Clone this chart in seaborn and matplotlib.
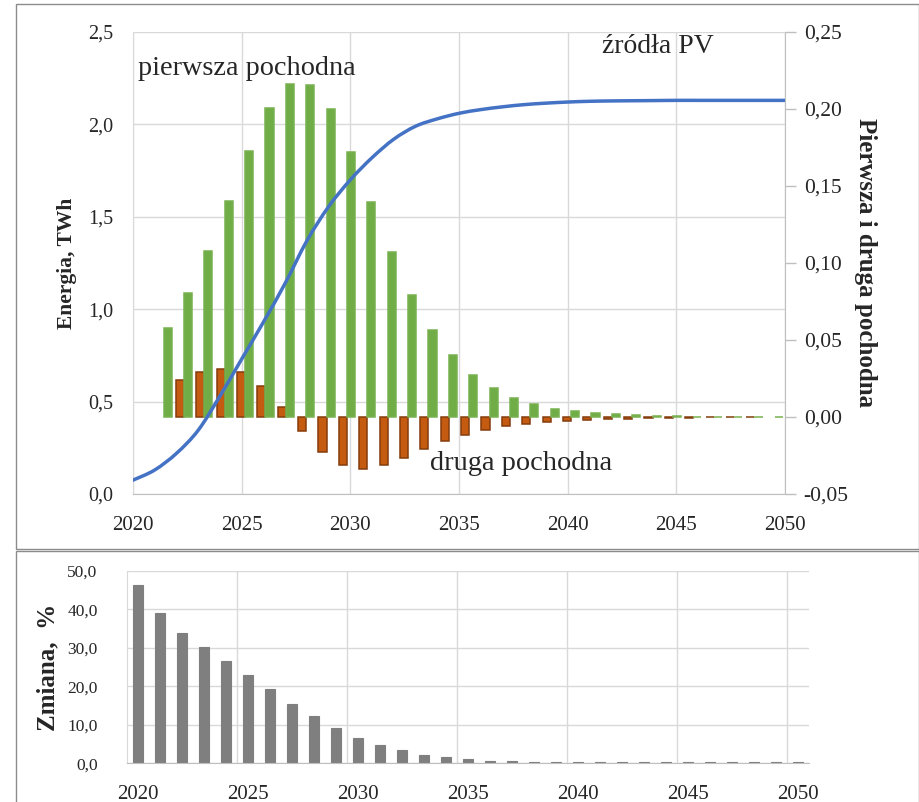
import numpy as np
import pandas as pd
import matplotlib
matplotlib.use("Agg")
import matplotlib.pyplot as plt
from matplotlib.ticker import FuncFormatter, FixedLocator
from matplotlib.patches import Rectangle, PathPatch
from matplotlib.path import Path
import seaborn as sns

sns.set_style("white")
plt.rcParams["font.family"] = ["Liberation Serif", "DejaVu Serif"]

nan = np.nan

# --- Energy from PV sources (S-curve), TWh ---------------------------------
years = list(range(2020, 2051))
energy_twh = [0.075, 0.13, 0.22, 0.345, 0.53, 0.73, 0.93, 1.14, 1.37, 1.555,
              1.70, 1.82, 1.92, 1.99, 2.03, 2.06, 2.08, 2.095, 2.107, 2.115,
              2.121, 2.125, 2.127, 2.128, 2.129, 2.13, 2.13, 2.13, 2.13, 2.13,
              2.13]

# --- first and second derivative (secondary axis) ---------------------------
deriv_years = list(range(2020, 2052))
first_deriv = [nan, 0.0576, 0.0803, 0.1075, 0.1400, 0.1727, 0.2004, 0.2160,
               0.2154, 0.1998, 0.1719, 0.1396, 0.1073, 0.0794, 0.0567, 0.0400,
               0.0275, 0.0188, 0.0125, 0.0084, 0.0054, 0.0036, 0.0025, 0.0017,
               0.0010, 0.0006, 0.0004, 0.0003, 0.0002, 0.0002, 0.0001, 0.0001]
second_deriv = [nan, nan, 0.0242, 0.0289, 0.0314, 0.0289, 0.0202, 0.0068,
                -0.0091, -0.0227, -0.0312, -0.0338, -0.0312, -0.0264, -0.0210,
                -0.0156, -0.0115, -0.0084, -0.0058, -0.0045, -0.0035, -0.0027,
                -0.0022, -0.0016, -0.0011, -0.0008, -0.0006, -0.0004, -0.0003,
                -0.0002, -0.0002, nan]

# --- year-on-year change, % -------------------------------------------------
change_pct = [46.4, 39.0, 34.0, 30.2, 26.6, 22.9, 19.3, 15.5, 12.4, 9.1,
              6.7, 4.7, 3.5, 2.2, 1.6, 1.1, 0.6, 0.5, 0.35, 0.3,
              0.3, 0.25, 0.25, 0.25, 0.25, 0.25, 0.25, 0.25, 0.25, 0.25, 0.25]

series_names = ["druga pochodna", "pierwsza pochodna"]
series_colors = {"druga pochodna": "#C55A11", "pierwsza pochodna": "#70AD47"}
series_edges = {"druga pochodna": "#843C0C", "pierwsza pochodna": "#78B251"}

GRID = "#D9D9D9"
AXIS = "#BFBFBF"
W, H = 920, 802


def box(x0, y0, x1, y1):
    """Pixel box (origin top-left) -> figure-fraction rect."""
    return [x0 / W, 1 - y1 / H, (x1 - x0) / W, (y1 - y0) / H]


def comma(fmt):
    def f(v, _):
        if abs(v) < 1e-9:
            v = 0.0
        return format(v, fmt).replace(".", ",")
    return FuncFormatter(f)


def smoothed(xs, ys):
    """Bezier path through the points (spreadsheet-style smoothed line)."""
    pts = np.column_stack([xs, ys]).astype(float)
    n = len(pts)
    verts, codes = [pts[0]], [Path.MOVETO]
    for i in range(n - 1):
        p_prev = pts[i - 1] if i > 0 else pts[i]
        p0, p1 = pts[i], pts[i + 1]
        p_next = pts[i + 2] if i + 2 < n else pts[i + 1]
        verts += [p0 + (p1 - p_prev) / 6, p1 - (p_next - p0) / 6, p1]
        codes += [Path.CURVE4] * 3
    return Path(verts, codes)


fig = plt.figure(figsize=(W / 100, H / 100), dpi=100)
fig.patch.set_facecolor("white")

# ============================ upper chart ===================================
top_rect = box(133, 32, 785, 494)
ax = fig.add_axes(top_rect, label="energy-grid")
ax_b = fig.add_axes(top_rect, label="derivatives")
ax_l = fig.add_axes(top_rect, label="energy-line")
ax.set_zorder(0)
ax_b.set_zorder(1)
ax_l.set_zorder(2)

# primary axis: years / TWh with grid
ax.set_xlim(2020, 2050)
ax.set_ylim(0, 2.5)
ax.xaxis.set_major_locator(FixedLocator(list(range(2020, 2051, 5))))
ax.yaxis.set_major_locator(FixedLocator([0, 0.5, 1.0, 1.5, 2.0, 2.5]))
ax.yaxis.set_major_formatter(comma(".1f"))
ax.grid(True, color=GRID, linewidth=1.0)
for s in ["top", "right"]:
    ax.spines[s].set_visible(False)
ax.spines["left"].set_color(GRID)
ax.spines["bottom"].set_color(AXIS)
ax.tick_params(axis="x", length=0, labelsize=15, pad=16)
ax.tick_params(axis="y", length=0, labelsize=14.5, pad=14)
ax.set_ylabel("Energia, TWh", fontsize=15.5, fontweight="bold", labelpad=8)

# secondary axis: clustered bars of the derivatives
deriv_df = pd.DataFrame({
    "rok": deriv_years * 2,
    "wartosc": second_deriv + first_deriv,
    "seria": [series_names[0]] * len(deriv_years) + [series_names[1]] * len(deriv_years),
}).dropna()
sns.barplot(data=deriv_df, x="rok", y="wartosc", hue="seria",
            order=deriv_years, hue_order=series_names, palette=series_colors,
            width=0.8, saturation=1, errorbar=None, legend=False, ax=ax_b)
for bar in ax_b.patches:
    fc = matplotlib.colors.to_hex(bar.get_facecolor())
    for name, col in series_colors.items():
        if fc.lower() == col.lower():
            bar.set_edgecolor(series_edges[name])
            bar.set_linewidth(1.1)
ax_b.patch.set_visible(False)
ax_b.set_xlim(-0.5, len(deriv_years) - 0.5)
ax_b.set_ylim(-0.05, 0.25)
ax_b.set_xticks([])
ax_b.set_xlabel("")
ax_b.yaxis.set_major_locator(FixedLocator([-0.05, 0.0, 0.05, 0.10, 0.15, 0.20, 0.25]))
ax_b.yaxis.set_major_formatter(comma(".2f"))
ax_b.yaxis.tick_right()
ax_b.yaxis.set_label_position("right")
for s in ["top", "left", "bottom"]:
    ax_b.spines[s].set_visible(False)
ax_b.spines["right"].set_color(AXIS)
ax_b.tick_params(axis="y", right=True, left=False, length=8, width=1,
                 color=AXIS, direction="out", labelsize=15.5, pad=5.5)
ax_b.set_ylabel("Pierwsza i druga pochodna", fontsize=18, fontweight="bold",
                rotation=270, labelpad=20)

# energy curve on top of the bars
ax_l.set_xlim(2020, 2050)
ax_l.set_ylim(0, 2.5)
ax_l.add_patch(PathPatch(smoothed(years, energy_twh), facecolor="none",
                         edgecolor="#4472C4", linewidth=2.5,
                         capstyle="round", joinstyle="round"))
ax_l.axis("off")

ax_l.text(0.008, 0.922, "pierwsza pochodna", transform=ax_l.transAxes,
          fontsize=20.3, ha="left", va="center")
ax_l.text(0.805, 0.968, "źródła PV", transform=ax_l.transAxes,
          fontsize=20, ha="center", va="center")
ax_l.text(0.456, 0.067, "druga pochodna", transform=ax_l.transAxes,
          fontsize=20.4, ha="left", va="center")

# ============================ lower chart ===================================
ax2 = fig.add_axes(box(126.7, 571, 809, 763.3), label="change")
sns.barplot(x=years, y=change_pct, color="#7F7F7F", width=0.45,
            saturation=1, errorbar=None, edgecolor="#7F7F7F", linewidth=0.8,
            ax=ax2)
ax2.set_xlim(-0.5, len(years) - 0.5)
ax2.set_ylim(0, 50)
ax2.set_axisbelow(True)
ax2.yaxis.set_major_locator(FixedLocator([0, 10, 20, 30, 40, 50]))
ax2.yaxis.set_major_formatter(comma(".1f"))
ax2.yaxis.grid(True, color=GRID, linewidth=1.0)
for b in np.arange(4.5, len(years) - 1, 5):
    ax2.axvline(b, color=GRID, linewidth=1.0, zorder=0)
tick_pos = list(range(0, len(years), 5))
ax2.set_xticks(tick_pos)
ax2.set_xticklabels([str(years[i]) for i in tick_pos])
for s in ["top", "right"]:
    ax2.spines[s].set_visible(False)
ax2.spines["left"].set_color(GRID)
ax2.spines["bottom"].set_color(AXIS)
ax2.tick_params(axis="x", length=0, labelsize=15, pad=15.5)
ax2.tick_params(axis="y", length=0, labelsize=12.5, pad=21)
ax2.set_xlabel("")
ax2.set_ylabel("Zmiana,  %", fontsize=18, fontweight="bold", labelpad=6)

# panel frames
fig.add_artist(Rectangle((16 / W, 1 - 549 / H), 903 / W, 545 / H,
                         transform=fig.transFigure, fill=False,
                         edgecolor="#8C8C8C", linewidth=1.0))
fig.add_artist(Rectangle((16 / W, -0.02), 903 / W, 1 - 551 / H + 0.02,
                         transform=fig.transFigure, fill=False,
                         edgecolor="#8C8C8C", linewidth=1.0))

fig.savefig("out.png", dpi=100)
